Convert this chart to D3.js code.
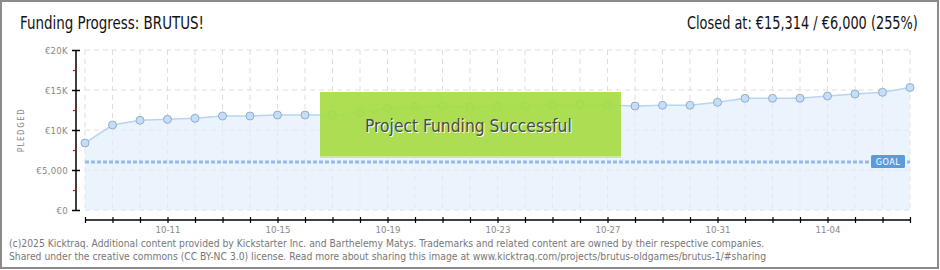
<!DOCTYPE html>
<html>
<head>
<meta charset="utf-8">
<script src="https://cdn.jsdelivr.net/npm/d3@7"></script>
<style>
  body { margin: 0; background: #fff; }
  svg { display: block; }
  text { font-family: "DejaVu Sans Condensed", "DejaVu Sans", sans-serif; }
</style>
</head>
<body>
<div id="chart"></div>
<script>
// data (one value per day)
var days = ["2025-10-08","2025-10-09","2025-10-10","2025-10-11","2025-10-12","2025-10-13","2025-10-14",
  "2025-10-15","2025-10-16","2025-10-17","2025-10-18","2025-10-19","2025-10-20","2025-10-21",
  "2025-10-22","2025-10-23","2025-10-24","2025-10-25","2025-10-26","2025-10-27","2025-10-28",
  "2025-10-29","2025-10-30","2025-10-31","2025-11-01","2025-11-02","2025-11-03","2025-11-04",
  "2025-11-05","2025-11-06","2025-11-07"];
var pledged = [8375, 10625, 11210, 11330, 11460, 11750, 11750,
  11875, 11875, 11875, 12160, 12710, 12920, 13000,
  12875, 13000, 13040, 13125, 13210, 13125, 13000,
  13090, 13090, 13460, 13960, 13960, 13960, 14250,
  14500, 14710, 15314];
var goal = 6000;
var yTicks = [0, 5000, 10000, 15000, 20000];
var yTickLabels = ["€0", "€5,000", "€10K", "€15K", "€20K"];
var yMinorTicks = [2500, 7500, 12500, 17500];
var xLabelDays = ["2025-10-11","2025-10-15","2025-10-19","2025-10-23","2025-10-27","2025-10-31","2025-11-04"];

var width = 940, height = 270;
var parse = d3.timeParse("%Y-%m-%d");
var data = days.map(function(d, i) { return {date: parse(d), v: pledged[i]}; });

var svg = d3.select("#chart").append("svg")
  .attr("width", width).attr("height", height);

// squeeze a text horizontally so it takes w pixels, anchored at x
function fitText(sel, x, w, anchor) {
  var n = sel.node().getComputedTextLength();
  var k = w / n;
  var x0 = anchor == "end" ? x - w : (anchor == "middle" ? x - w / 2 : x);
  sel.attr("x", 0).attr("transform", "translate(" + x0 + "," + sel.attr("y") + ") scale(" + k + ",1)")
    .attr("y", 0);
  return sel;
}

// frame
svg.append("rect").attr("x", 1).attr("y", 1).attr("width", 937).attr("height", 267)
  .attr("fill", "#fff").attr("stroke", "#8a8a8a").attr("stroke-width", 2);

var x = d3.scaleTime()
  .domain([data[0].date, data[data.length - 1].date])
  .range([85, 910]);
var y = d3.scaleLinear().domain([0, 20000]).range([210, 50]);

// titles
fitText(svg.append("text").attr("y", 29)
  .attr("font-size", 17).attr("fill", "#111")
  .text("Funding Progress: BRUTUS!"), 20, 184, "start");
fitText(svg.append("text").attr("y", 29)
  .attr("font-size", 17).attr("fill", "#111")
  .text("Closed at: €15,314 / €6,000 (255%)"), 918, 231, "end");

// grid
var grid = svg.append("g").attr("stroke", "#dedede").attr("stroke-dasharray", "5,4");
grid.selectAll(".gh").data(yTicks).enter().append("line")
  .attr("x1", 85).attr("x2", 910)
  .attr("y1", function(d) { return y(d); }).attr("y2", function(d) { return y(d); });
grid.selectAll(".gv").data(data).enter().append("line")
  .attr("x1", function(d) { return x(d.date); }).attr("x2", function(d) { return x(d.date); })
  .attr("y1", 50).attr("y2", 210);

// area + line
var area = d3.area().x(function(d) { return x(d.date); })
  .y0(y(0)).y1(function(d) { return y(d.v); });
svg.append("path").datum(data).attr("d", area)
  .attr("fill", "#e3eefb").attr("fill-opacity", 0.7);

var line = d3.line().x(function(d) { return x(d.date); }).y(function(d) { return y(d.v); });
svg.append("path").datum(data).attr("d", line)
  .attr("fill", "none").attr("stroke", "#b8d5f3").attr("stroke-width", 1.5);

// goal line
svg.append("line").attr("x1", 85).attr("x2", 910)
  .attr("y1", y(goal)).attr("y2", y(goal))
  .attr("stroke", "#94b9e3").attr("stroke-width", 3).attr("stroke-dasharray", "4,2");

// points
svg.selectAll(".pt").data(data).enter().append("circle")
  .attr("cx", function(d) { return x(d.date); })
  .attr("cy", function(d) { return y(d.v); })
  .attr("r", 4)
  .attr("fill", "#c4ddf8").attr("stroke", "#94aec9").attr("stroke-width", 1);

// goal label
svg.append("rect").attr("x", 871).attr("y", 155).attr("width", 34).attr("height", 13)
  .attr("rx", 1.5).attr("fill", "#5b9bdc");
svg.append("text").attr("x", 888).attr("y", 165).attr("text-anchor", "middle")
  .attr("font-size", 9).attr("fill", "#fff").attr("letter-spacing", 0.5)
  .text("GOAL");

// y axis
var yAxis = svg.append("g").attr("transform", "translate(76,0)")
  .call(d3.axisLeft(y).tickValues(yTicks).tickSize(4)
    .tickFormat(function(d, i) { return yTickLabels[i]; }));
yAxis.select(".domain").attr("stroke", "#000").attr("stroke-width", 1.5).attr("d", "M0,50V210");
yAxis.selectAll(".tick line").attr("x1", -4).attr("x2", 4).attr("stroke", "#000").attr("stroke-width", 1.5);
yAxis.selectAll(".tick text").attr("x", -8).attr("fill", "#888")
  .attr("font-size", 9.5).attr("letter-spacing", 0.3);

var yMinor = svg.append("g").attr("transform", "translate(76,0)")
  .call(d3.axisLeft(y).tickValues(yMinorTicks).tickSize(3).tickFormat(""));
yMinor.select(".domain").remove();
yMinor.selectAll(".tick line").attr("stroke", "#e00").attr("stroke-width", 1.2);

svg.append("text").attr("transform", "translate(24,130) rotate(-90)")
  .attr("text-anchor", "middle").attr("font-size", 8).attr("fill", "#888")
  .attr("letter-spacing", 1.5).text("PLEDGED");

// x axis
var labelSet = xLabelDays.map(function(d) { return +parse(d); });
var xAxis = svg.append("g").attr("transform", "translate(0,220)")
  .call(d3.axisBottom(x).tickValues(data.map(function(d) { return d.date; }))
    .tickSize(3)
    .tickFormat(function(d) { return labelSet.indexOf(+d) >= 0 ? d3.timeFormat("%m-%d")(d) : ""; }));
xAxis.select(".domain").attr("stroke", "#000").attr("stroke-width", 1.5).attr("d", "M85,0H910");
xAxis.selectAll(".tick line").attr("y1", -3).attr("y2", 3).attr("stroke", "#000").attr("stroke-width", 1.2);
xAxis.selectAll(".tick text").attr("y", 6).attr("fill", "#888").attr("font-size", 9.5);

// success banner
svg.append("rect").attr("x", 320).attr("y", 92).attr("width", 301).attr("height", 66)
  .attr("fill", "#a6dc44").attr("fill-opacity", 0.92);
svg.append("rect").attr("x", 320).attr("y", 156).attr("width", 301).attr("height", 2)
  .attr("fill", "#cdeb97");
fitText(svg.append("text").attr("y", 133)
  .attr("font-size", 18).attr("fill", "#fff")
  .text("Project Funding Successful"), 366, 207, "start");
fitText(svg.append("text").attr("y", 132)
  .attr("font-size", 18).attr("fill", "#4a4a4a")
  .text("Project Funding Successful"), 365, 207, "start");

// footer
fitText(svg.append("text").attr("y", 247).attr("font-size", 10).attr("fill", "#777")
  .text("(c)2025 Kicktraq. Additional content provided by Kickstarter Inc. and Barthelemy Matys. Trademarks and related content are owned by their respective companies."),
  9, 756, "start");
fitText(svg.append("text").attr("y", 260).attr("font-size", 10).attr("fill", "#777")
  .text("Shared under the creative commons (CC BY-NC 3.0) license. Read more about sharing this image at www.kicktraq.com/projects/brutus-oldgames/brutus-1/#sharing"),
  9, 758, "start");
</script>
</body>
</html>
